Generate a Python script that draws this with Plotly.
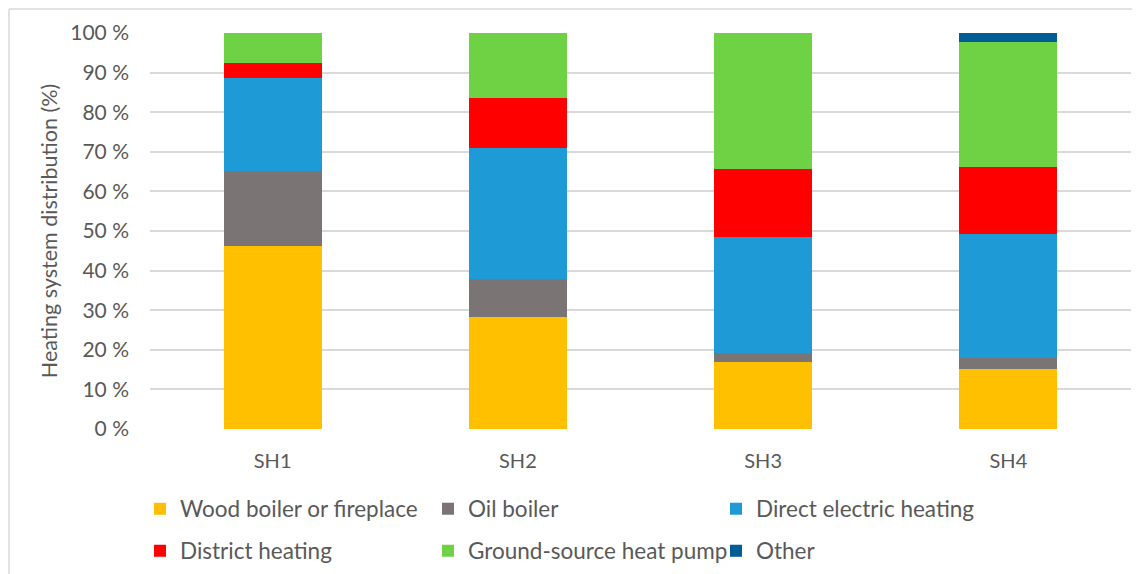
import plotly.graph_objects as go

categories = ["SH1", "SH2", "SH3", "SH4"]
series_names = ["Wood boiler or fireplace", "Oil boiler", "Direct electric heating",
                "District heating", "Ground-source heat pump", "Other"]
wood = [46.1, 28.3, 16.8, 15.2]
oil = [19.1, 9.5, 2.3, 2.7]
direct_electric = [23.4, 33.2, 29.4, 31.3]
district = [3.8, 12.6, 17.2, 16.9]
gshp = [7.6, 16.4, 34.3, 31.6]
other = [0.0, 0.0, 0.0, 2.3]
tick_vals = [0, 10, 20, 30, 40, 50, 60, 70, 80, 90, 100]
tick_text = ["0 %", "10 %", "20 %", "30 %", "40 %", "50 %", "60 %", "70 %", "80 %", "90 %", "100 %"]

colors = ["#FFC000", "#7A7474", "#1E9BD7", "#FF0000", "#6FD244", "#005D96"]
values = [wood, oil, direct_electric, district, gshp, other]

# page has an 8px body margin; figure coords = page coords - 8
OFF = 8
W, H = 1140 - OFF, 574 - OFF
L, T = 150 - OFF, 33 - OFF
R = W - (1131 - OFF)
B = H - (429 - OFF)
FONT = "Lato"
TXT = "#595959"

fig = go.Figure()
for i, (name, vals, col) in enumerate(zip(series_names, values, colors)):
    fig.add_trace(go.Bar(x=categories, y=vals, name=name,
                         legend="legend" if i < 3 else "legend2",
                         marker=dict(color=col, line=dict(width=0))))

legend_common = dict(orientation="h", xref="container", yref="container",
                     x=(140 - OFF) / W, xanchor="left", yanchor="middle",
                     entrywidth=243, entrywidthmode="pixels", traceorder="normal",
                     font=dict(size=22.5, color=TXT), itemwidth=30,
                     bgcolor="rgba(0,0,0,0)")

fig.update_layout(
    width=W, height=H,
    margin=dict(l=L, r=R, t=T, b=B, pad=0),
    barmode="stack", bargap=0.6,
    plot_bgcolor="white", paper_bgcolor="white",
    font=dict(family=FONT, color=TXT, size=20),
    xaxis=dict(showgrid=False, showline=False, ticks="", ticklabelstandoff=18,
               tickfont=dict(size=20, color=TXT)),
    yaxis=dict(range=[0, 100], tickvals=tick_vals, ticktext=tick_text,
               showgrid=True, gridcolor="#D9D9D9", gridwidth=1.5, zeroline=False,
               showline=False, ticks="", ticklen=0, ticklabelstandoff=20,
               tickfont=dict(size=21, color=TXT),
               title=dict(text="Heating system distribution (%)", font=dict(size=21.5, color=TXT),
                          standoff=6)),
    legend=dict(legend_common, y=1 - (509 - OFF) / H),
    legend2=dict(legend_common, y=1 - (551 - OFF) / H),
    showlegend=True,
)

# chart-area border (top and left edges visible)
pw, ph = W - L - R, H - T - B
x_l = (1 - L) / pw
x_r = (W - L) / pw
y_t = (H - 1 - B) / ph
y_b = -B / ph
fig.add_shape(type="line", xref="paper", yref="paper", x0=x_l, x1=x_r, y0=y_t, y1=y_t,
              line=dict(color="#D9D9D9", width=1.5), layer="below")
fig.add_shape(type="line", xref="paper", yref="paper", x0=x_l, x1=x_l, y0=y_t, y1=y_b,
              line=dict(color="#D9D9D9", width=1.5), layer="below")

fig.write_html("out.html")
